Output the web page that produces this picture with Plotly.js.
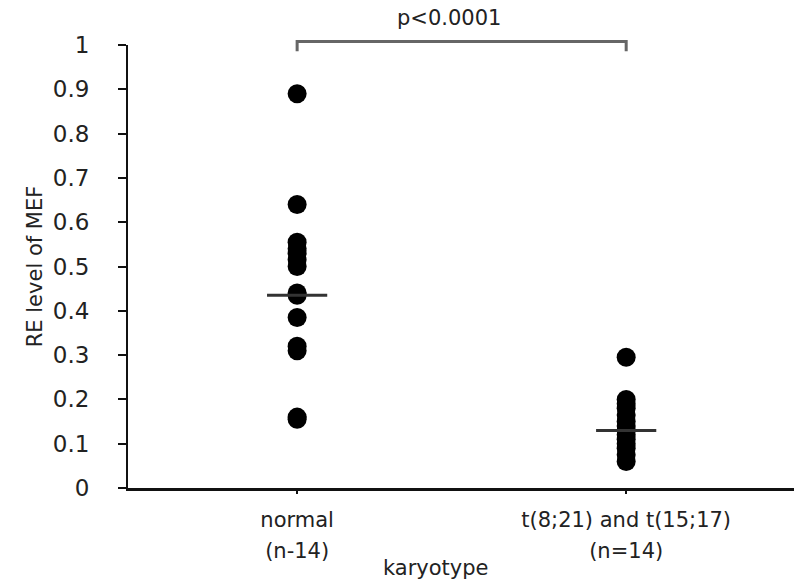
<!DOCTYPE html>
<html>
<head>
<meta charset="utf-8">
<script src="https://cdn.plot.ly/plotly-3.0.1.min.js"></script>
<style>html,body{margin:0;padding:0;background:#fff;}#chart{width:794px;height:580px;}</style>
</head>
<body>
<div id="chart"></div>
<script>
// ---- data ----
var categories = ['normal', 't(8;21) and t(15;17)'];
var groupSizes = ['(n-14)', '(n=14)'];
var normalValues = [0.89, 0.64, 0.555, 0.54, 0.53, 0.515, 0.50, 0.44, 0.435, 0.385, 0.32, 0.31, 0.16, 0.155];
var translocValues = [0.295, 0.20, 0.19, 0.18, 0.165, 0.15, 0.14, 0.13, 0.12, 0.11, 0.10, 0.09, 0.075, 0.06];
var medianValues = [0.435, 0.13];
var pLabel = 'p<0.0001';
var yTitle = 'RE level of MEF';
var xTitle = 'karyotype';

function repeat(v, n) { var a = []; for (var i = 0; i < n; i++) a.push(v); return a; }

var tickText = categories.map(function (c, i) {
  return '<span style="font-size:21px">' + c + '</span><br><span style="font-size:21px">' + groupSizes[i] + '</span>';
});

var FONT = 'DejaVu Sans, sans-serif';

var traces = [
  {
    type: 'scatter', mode: 'markers',
    x: repeat(categories[0], normalValues.length), y: normalValues,
    marker: {color: '#000', size: 19}, cliponaxis: false, showlegend: false, hoverinfo: 'y'
  },
  {
    type: 'scatter', mode: 'markers',
    x: repeat(categories[1], translocValues.length), y: translocValues,
    marker: {color: '#000', size: 19}, cliponaxis: false, showlegend: false, hoverinfo: 'y'
  },
  {
    type: 'scatter', mode: 'markers',
    x: categories, y: medianValues,
    marker: {symbol: 'line-ew', size: 43, line: {color: '#333', width: 3}},
    cliponaxis: false, showlegend: false, hoverinfo: 'y'
  }
];

var layout = {
  width: 794, height: 580,
  margin: {l: 128, r: 0, t: 45, b: 92},
  paper_bgcolor: '#fff', plot_bgcolor: '#fff',
  font: {family: FONT, size: 21, color: '#222'},
  showlegend: false,
  xaxis: {
    type: 'category',
    range: [-0.514, 1.51],
    tickmode: 'array', tickvals: categories, ticktext: tickText,
    showgrid: false, zeroline: false,
    showline: true, linecolor: '#111', linewidth: 3,
    ticks: 'outside', ticklen: 3, tickwidth: 1.5, tickcolor: '#111',
    ticklabelstandoff: 4,
    tickfont: {family: FONT, size: 24, color: '#222'}
  },
  yaxis: {
    range: [0, 1], tick0: 0, dtick: 0.1,
    showgrid: false, zeroline: false,
    showline: true, linecolor: '#111', linewidth: 2,
    ticks: 'outside', ticklen: 8, tickwidth: 2, tickcolor: '#111',
    ticklabelstandoff: 24,
    tickfont: {family: FONT, size: 23, color: '#222'},
    title: {text: yTitle, font: {family: FONT, size: 21, color: '#222'}, standoff: 4}
  },
  shapes: [
    {
      type: 'path', xref: 'x', yref: 'paper',
      path: 'M 0,0.986 L 0,1.008 L 1,1.008 L 1,0.986',
      line: {color: '#666', width: 3}
    }
  ],
  annotations: [
    {
      text: pLabel, xref: 'x', yref: 'paper', x: 0.46, y: 1.06,
      showarrow: false, xanchor: 'center', yanchor: 'middle',
      font: {family: FONT, size: 21, color: '#222'}
    },
    {
      text: xTitle, xref: 'paper', yref: 'paper', x: 0.462, y: -0.181,
      showarrow: false, xanchor: 'center', yanchor: 'middle',
      font: {family: FONT, size: 21, color: '#222'}
    }
  ]
};

Plotly.newPlot('chart', traces, layout, {staticPlot: true, displayModeBar: false});
</script>
</body>
</html>
